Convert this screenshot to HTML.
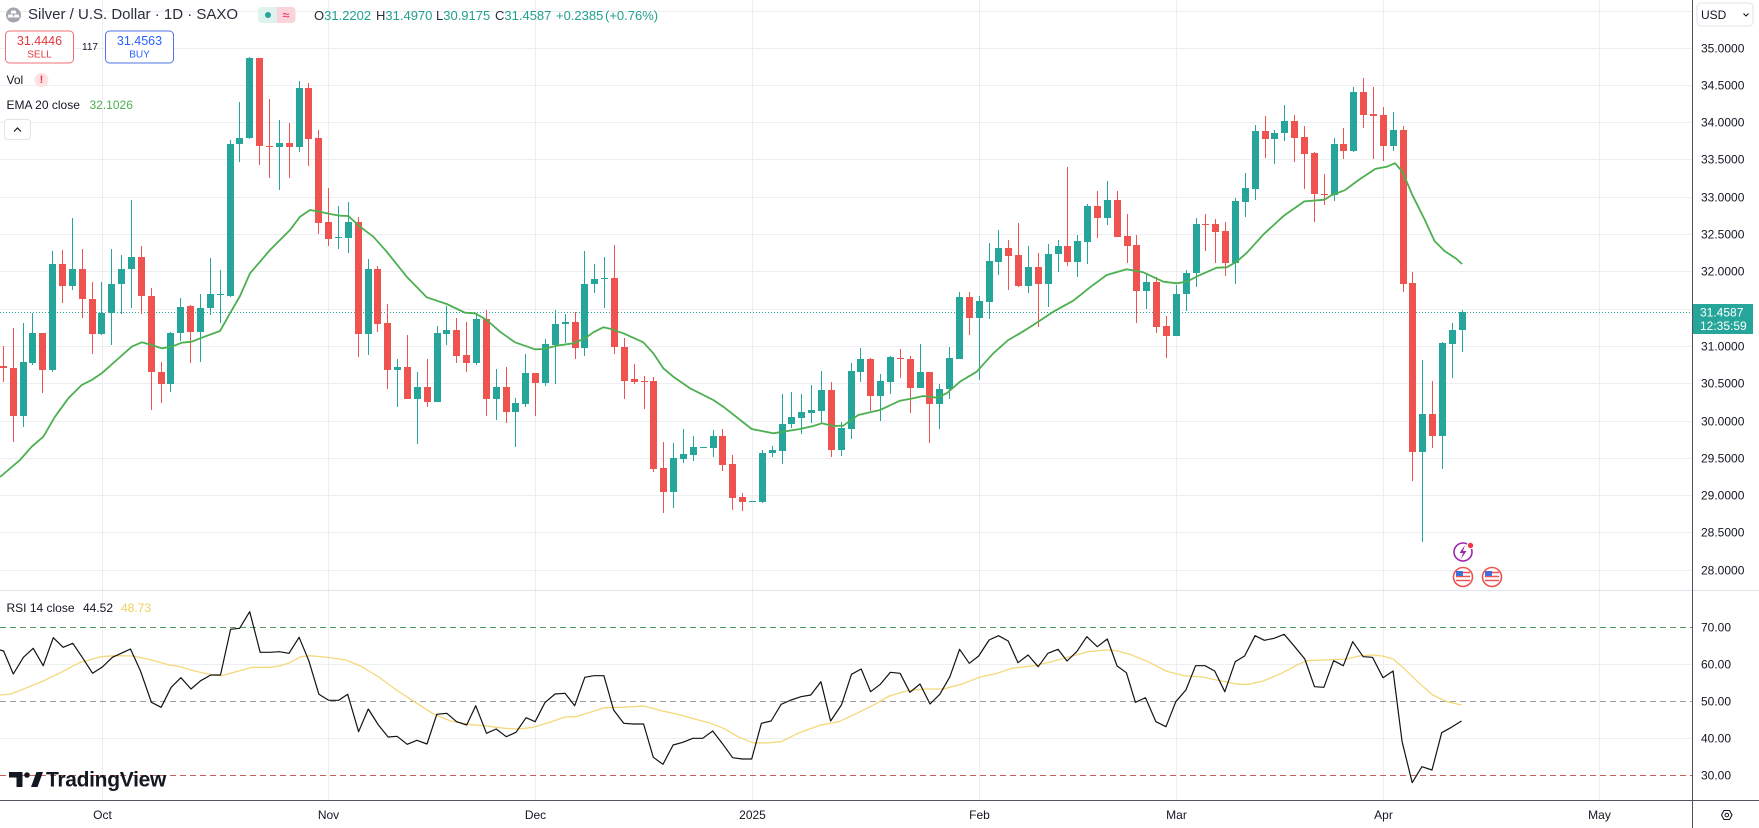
<!DOCTYPE html>
<html><head><meta charset="utf-8">
<style>
html,body{margin:0;padding:0;background:#fff;}
body{width:1759px;height:828px;overflow:hidden;position:relative;font-family:"Liberation Sans",sans-serif;color:#131722;}
svg{position:absolute;left:0;top:0;}
.t{position:absolute;white-space:nowrap;line-height:1;}
</style></head><body>
<svg width="1759" height="828" viewBox="0 0 1759 828" xmlns="http://www.w3.org/2000/svg" font-family="Liberation Sans, sans-serif">
<rect x="0" y="0" width="1759" height="828" fill="#fff"/>
<g stroke="#eceef2" stroke-width="1">
<path d="M0 11.5H1692M0 48.5H1692M0 85.5H1692M0 122.5H1692M0 159.5H1692M0 197.5H1692M0 234.5H1692M0 271.5H1692M0 309.5H1692M0 346.5H1692M0 383.5H1692M0 421.5H1692M0 458.5H1692M0 495.5H1692M0 532.5H1692M0 570.5H1692"/>
<path d="M0 664.5H1692M0 738.5H1692"/>
<path d="M102.5 0V800M328.5 0V800M535.5 0V800M752.5 0V800M979.5 0V800M1176.5 0V800M1383.5 0V800M1599.5 0V800"/>
</g>
<path d="M0 590.5H1759" stroke="#e0e3eb" stroke-width="1"/>
<path d="M0 627.5H1692" stroke="#4f9a5f" stroke-width="1" stroke-dasharray="6 4"/>
<path d="M0 701.5H1692" stroke="#9a9ca3" stroke-width="1" stroke-dasharray="6 4"/>
<path d="M0 775.5H1692" stroke="#c5625d" stroke-width="1" stroke-dasharray="6 4"/>
<path d="M0 312.5H1692" stroke="#26a69a" stroke-width="1" stroke-dasharray="1 2"/>

<path stroke="#26a69a" stroke-width="1" fill="none" d="M23.5 323V427M32.5 313V365M52.5 251V372M72.5 218V290M101.5 282V335M111.5 249V345M121.5 255V314M131.5 200V308M170.5 332V392M180.5 298V341M200.5 294V362M210.5 258V315M220.5 270V323M230.5 140V297M239.5 102V162M249.5 57V139M279.5 120V190M299.5 81V152M338.5 206V249M348.5 202V253M368.5 259V355M397.5 359V407M417.5 372V444M437.5 326V402M446.5 306V345M476.5 313V365M496.5 369V420M515.5 398V447M525.5 354V407M545.5 339V386M555.5 310V384M565.5 314V343M584.5 251V356M594.5 264V293M604.5 257V308M673.5 443V508M683.5 429V463M693.5 436V461M713.5 430V457M762.5 450V503M772.5 446V457M782.5 394V464M791.5 392V428M801.5 394V434M811.5 385V423M821.5 371V423M841.5 422V456M851.5 363V439M860.5 348V382M880.5 374V421M890.5 356V394M920.5 344V388M939.5 384V429M949.5 347V399M959.5 292V359M979.5 296V380M989.5 243V319M998.5 230V275M1028.5 246V293M1048.5 244V307M1058.5 240V272M1077.5 235V277M1087.5 204V264M1107.5 181V225M1146.5 273V309M1176.5 285V336M1186.5 270V311M1196.5 218V287M1235.5 198V284M1245.5 173V217M1255.5 125V200M1274.5 130V164M1284.5 105V141M1334.5 138V201M1353.5 87V152M1393.5 112V151M1422.5 360V542M1442.5 342V469M1452.5 323V378M1462.5 310V352"/>
<path fill="#26a69a" d="M20 362h7v54h-7zM29 333h7v30h-7zM49 264h7v106h-7zM69 269h7v17h-7zM98 313h7v21h-7zM108 284h7v29h-7zM118 269h7v15h-7zM128 257h7v12h-7zM167 333h7v51h-7zM177 307h7v26h-7zM197 308h7v24h-7zM207 294h7v14h-7zM217 294h7v1h-7zM227 144h7v152h-7zM236 138h7v6h-7zM246 58h7v80h-7zM276 143h7v4h-7zM296 88h7v59h-7zM335 237h7v1h-7zM345 222h7v16h-7zM365 269h7v65h-7zM394 367h7v3h-7zM414 387h7v12h-7zM434 333h7v69h-7zM443 330h7v4h-7zM473 319h7v44h-7zM493 387h7v12h-7zM512 403h7v9h-7zM522 373h7v31h-7zM542 344h7v39h-7zM552 324h7v21h-7zM562 322h7v2h-7zM581 284h7v64h-7zM591 279h7v5h-7zM601 278h7v1h-7zM670 458h7v34h-7zM680 454h7v5h-7zM690 447h7v8h-7zM700 447h7v1h-7zM710 436h7v12h-7zM749 501h7v1h-7zM759 453h7v49h-7zM769 450h7v3h-7zM779 424h7v27h-7zM788 417h7v7h-7zM798 412h7v6h-7zM808 410h7v3h-7zM818 390h7v21h-7zM838 428h7v22h-7zM848 371h7v58h-7zM857 359h7v13h-7zM877 381h7v15h-7zM887 357h7v25h-7zM917 372h7v16h-7zM936 389h7v15h-7zM946 358h7v31h-7zM956 297h7v62h-7zM976 301h7v17h-7zM986 261h7v41h-7zM995 248h7v14h-7zM1025 267h7v19h-7zM1045 254h7v30h-7zM1055 246h7v8h-7zM1074 241h7v21h-7zM1084 206h7v36h-7zM1104 200h7v18h-7zM1143 282h7v9h-7zM1173 294h7v42h-7zM1183 273h7v21h-7zM1193 224h7v49h-7zM1232 201h7v62h-7zM1242 188h7v14h-7zM1252 131h7v58h-7zM1271 133h7v6h-7zM1281 121h7v12h-7zM1331 144h7v51h-7zM1350 92h7v59h-7zM1390 130h7v16h-7zM1419 414h7v38h-7zM1439 343h7v93h-7zM1449 330h7v14h-7zM1459 312h7v18h-7z"/>
<path stroke="#ef5350" stroke-width="1" fill="none" d="M3.5 346V382M13.5 328V442M42.5 333V393M62.5 250V303M82.5 249V318M92.5 282V354M141.5 246V314M151.5 288V410M161.5 362V403M190.5 305V363M259.5 58V165M269.5 99V178M289.5 123V178M308.5 83V166M318.5 130V234M328.5 188V246M358.5 217V357M377.5 266V332M387.5 304V389M407.5 335V399M427.5 359V407M456.5 318V363M466.5 322V372M486.5 310V416M506.5 367V423M535.5 373V416M575.5 312V359M614.5 245V354M624.5 338V399M634.5 364V384M644.5 376V409M653.5 377V472M663.5 442V513M722.5 429V471M732.5 455V510M742.5 493V511M831.5 382V457M870.5 358V411M900.5 349V378M910.5 356V413M929.5 372V443M969.5 292V335M1008.5 240V290M1018.5 223V287M1038.5 253V327M1067.5 167V266M1097.5 191V238M1117.5 191V237M1127.5 214V263M1136.5 235V323M1156.5 277V333M1166.5 316V358M1205.5 214V251M1215.5 219V263M1225.5 222V276M1265.5 116V158M1294.5 115V162M1304.5 126V189M1314.5 152V222M1324.5 174V205M1343.5 128V159M1363.5 78V128M1373.5 87V159M1383.5 107V161M1403.5 126V292M1412.5 272V481M1432.5 381V448"/>
<path fill="#ef5350" d="M0 366h7v2h-7zM10 368h7v48h-7zM39 333h7v37h-7zM59 264h7v22h-7zM79 269h7v30h-7zM89 299h7v35h-7zM138 257h7v39h-7zM148 296h7v76h-7zM158 372h7v12h-7zM187 306h7v26h-7zM256 58h7v88h-7zM266 146h7v1h-7zM286 143h7v4h-7zM305 88h7v51h-7zM315 138h7v85h-7zM325 222h7v17h-7zM355 222h7v112h-7zM374 269h7v55h-7zM384 323h7v47h-7zM404 367h7v32h-7zM424 387h7v15h-7zM453 330h7v26h-7zM463 355h7v8h-7zM483 319h7v80h-7zM503 387h7v25h-7zM532 373h7v10h-7zM572 322h7v26h-7zM611 278h7v69h-7zM621 347h7v34h-7zM631 379h7v3h-7zM641 381h7v1h-7zM650 381h7v88h-7zM660 468h7v24h-7zM719 436h7v29h-7zM729 464h7v34h-7zM739 497h7v5h-7zM828 390h7v60h-7zM867 359h7v37h-7zM897 358h7v1h-7zM907 359h7v29h-7zM926 372h7v32h-7zM966 297h7v21h-7zM1005 248h7v8h-7zM1015 255h7v31h-7zM1035 267h7v17h-7zM1064 246h7v16h-7zM1094 206h7v12h-7zM1114 200h7v37h-7zM1124 236h7v10h-7zM1133 245h7v46h-7zM1153 282h7v45h-7zM1163 326h7v10h-7zM1202 224h7v1h-7zM1212 224h7v8h-7zM1222 231h7v32h-7zM1262 131h7v8h-7zM1291 121h7v17h-7zM1301 137h7v17h-7zM1311 153h7v41h-7zM1321 194h7v1h-7zM1340 144h7v7h-7zM1360 92h7v23h-7zM1370 114h7v2h-7zM1380 115h7v31h-7zM1400 130h7v154h-7zM1409 283h7v169h-7zM1429 414h7v22h-7z"/>

<polyline fill="none" stroke="#4caf50" stroke-width="1.8" stroke-linejoin="round" points="0,477 20,460 31.7,446.7 43.3,436.7 55,416.7 68.3,398.3 81.7,385 91.7,380 101.7,373.3 116.7,360 131.7,346.7 141.7,342.3 151.7,345 161.7,348.3 171.7,346.7 181.7,342.7 191.7,341.7 201.7,337.7 220,331 230,313.3 240,296 250,273.3 260,261.7 270,250 280,240 290,230 300,216.7 310,210 320,211.7 330,214 340,215.7 348.3,216 360,226.7 373.3,236.7 386.7,251.7 406.7,276.7 426.7,297.3 446.7,304 465,312.7 475,313.3 486.7,320 500,331.7 515,342.3 535,349.3 543.3,349 556.7,345.7 573.3,343.3 585,338.3 593.3,332.3 603.3,327.3 610,328.7 623.3,333.3 643.3,342.3 653.3,353.3 663.3,368.3 673.3,376.7 690,388.3 713.3,400 723.3,406.7 751.7,429 773.3,433.3 783.3,431.7 800,429 813.3,426 821.7,423.3 833.3,426 843.3,425.7 858.3,415 880,410 900,400.7 913.3,398.3 923.3,396 936.7,397.7 946.7,393.3 960,381.7 976.7,371.7 993.3,353.3 1008.3,340 1020,333.3 1033.3,325 1053.3,311.7 1073.3,300.7 1090,287.3 1106.7,275 1126.7,269.3 1143.3,272.3 1163.3,281.7 1176.7,283.3 1186.7,281.7 1200,275 1216.7,267.7 1226.7,267.3 1236.7,261.7 1246.8,252.8 1263.7,234.2 1284,215.6 1304.3,201.4 1324.6,199.7 1331.3,195.3 1344.9,190.2 1358.4,180.1 1375.3,168.9 1387.2,166.6 1395,163.2 1402.4,171.6 1412.5,195.3 1424.4,219 1434.5,241 1444.7,251.1 1456.5,258.9 1462,264"/>

<polyline fill="none" stroke="#f5d87a" stroke-width="1.3" stroke-linejoin="round" points="0,695 10.8,694 25.2,688.3 43.2,681 61.3,672.3 79.3,662.7 100.9,656.7 115.3,655.7 133.3,656 151.4,660 169.4,665 180.2,666.7 194.6,671 212.6,675 221.6,675.7 234.2,672.3 252.3,667.3 270.3,667.3 279.3,666 288.3,663.3 300.9,656.7 309.9,655.7 324.3,657 345.9,660 360.4,666 378.4,676.7 396.4,690 414.4,701.7 432.4,713.3 450.5,721 468.5,724.3 486.5,726 504.5,728.3 518.9,729 533.3,727.3 551.4,721.7 565,717 575.8,716.7 590.2,712.3 604.6,707.7 622.7,707.3 644.3,706 662.3,711 676.7,714 694.7,719 709.1,722.7 723.6,728.3 738,736.7 752.4,742.7 766.8,743 781.2,741.7 799.2,732.7 820.9,725 838.9,721.7 856.9,713.3 874.9,704.3 889.3,696 907.3,690.7 925.4,689 943.4,689 961.4,684.3 979.4,677.3 997.4,673.3 1011.8,668.3 1033.5,665.7 1051.5,661.7 1069.5,656.7 1087.5,651.7 1105.5,650 1116.4,650.7 1130,654.3 1148,661.7 1166,671 1184.1,675.7 1202.1,677 1220.1,680.7 1238.1,684.3 1248.9,684.3 1263.3,681 1281.4,673.3 1295.8,665.7 1306.6,660.7 1324.6,660 1346.2,659 1360.6,655.7 1371.4,655 1382.3,656 1393.1,659 1403.9,668.3 1418.3,682.3 1432.7,695 1447.1,701.7 1461.5,705"/>
<polyline fill="none" stroke="#131313" stroke-width="1.2" stroke-linejoin="round" points="0,650 3.6,651 13.3,674 23.4,657.3 33.2,648.3 43.2,665.7 53.3,637.7 63.1,647.3 72.8,643.3 82.9,658.3 92.6,673.3 102.7,666.7 112.4,657.3 122.5,652.7 130.5,649 140.5,671 151.4,702.3 161.1,707.3 171.2,687.3 180.9,677.7 191,689 200.7,680.7 210.8,675 220.5,675 230.6,629.3 239.6,628.3 249.7,611.7 260.2,652.3 270.3,652.3 279.3,651.7 289,653.3 299.1,637.3 308.8,660.7 318.9,694.3 328.6,700.3 338.7,700.3 347.7,694.3 358.6,731.7 368.3,709 378.4,725 388.1,737 397.1,736.3 407.2,744.3 416.9,740.3 427,744 436.8,714.3 446.8,713.3 456.6,721.7 466.7,725 475.7,705.7 486.5,733.3 496.2,729 506.3,736.7 516,732.3 526.1,717.7 535.1,721.7 544.9,702.7 555,694 565,693.3 574.7,705.7 584.8,677.3 593.8,675.7 603.9,675.7 613.6,710 623.7,723.3 633.5,724 643.6,724 653.3,757.3 663,764.3 673.1,745 682.8,742.3 692.9,738.3 702.7,738.3 712.7,731 722.5,743.7 732.6,757.7 742.3,759 751.7,759 761.4,723.3 771.1,721 781.2,704.3 791,700 801,696.7 810.8,695 820.9,681.7 830.6,721 841.4,705 851.5,674.3 861.2,669 870.6,691.7 880.3,684.3 890.4,672.3 900.1,673.3 909.9,692.3 920,684 930,704 939.8,694.3 949.9,676.7 959.6,649.3 969.3,663.3 978.7,656 989.1,640 998.5,635.7 1008.2,641 1018,662.7 1028.1,655 1038.2,666.7 1047.9,653.3 1058,649.3 1067,661 1076.7,651.7 1086.8,636.7 1097.3,646.7 1107.3,639 1117.1,666 1126.4,672.7 1135.4,702.3 1145.5,697.7 1155.9,721.7 1166,726.7 1175.8,701.7 1185.9,690 1195.6,665.7 1205,665.7 1214.7,671 1224.8,691.7 1235.2,661.7 1244.6,656 1255,635.7 1264.4,640.3 1274.1,638.3 1284.2,634.3 1294.7,646.7 1304.8,659 1314.5,686.7 1323.9,687.3 1333.6,660.7 1343.3,665.7 1352.7,641.7 1363.2,656.7 1372.5,657.3 1383,677.7 1393.1,671 1402.1,741.7 1412.2,782.7 1421.9,766.7 1432,770 1441.7,732.7 1451.4,727.3 1461.5,721"/>

<g>
<circle cx="1463" cy="552" r="9" fill="#fff" stroke="#9c27b0" stroke-width="1.6"/>
<path d="M1465 545 L1459.5 553 H1463 L1461 559 L1466.5 551 H1463 Z" fill="#9c27b0"/>
<circle cx="1470.5" cy="545.5" r="3.2" fill="#f23645" stroke="#fff" stroke-width="1"/>
<circle cx="1463" cy="577" r="9.5" fill="#fff" stroke="#ef5350" stroke-width="1.6"/>
<path d="M1456 572.5H1470M1456 576.5H1470M1456 580.5H1470" stroke="#ef5350" stroke-width="1.6"/>
<rect x="1456" y="571" width="7" height="5" fill="#3f6fd8"/>
<circle cx="1492" cy="577" r="9.5" fill="#fff" stroke="#ef5350" stroke-width="1.6"/>
<path d="M1485 572.5H1499M1485 576.5H1499M1485 580.5H1499" stroke="#ef5350" stroke-width="1.6"/>
<rect x="1485" y="571" width="7" height="5" fill="#3f6fd8"/>
</g>

<rect x="1693" y="0" width="66" height="828" fill="#fff"/>
<path d="M0 590.5H1759" stroke="#e0e3eb" stroke-width="1"/>
<path d="M1692.5 0V828" stroke="#50535e" stroke-width="1"/>
<path d="M0 800.5H1759" stroke="#50535e" stroke-width="1"/>

<g font-size="12" fill="#131722" dominant-baseline="central">
<text x="1701" y="48.5">35.0000</text>
<text x="1701" y="85.5">34.5000</text>
<text x="1701" y="122.5">34.0000</text>
<text x="1701" y="159.5">33.5000</text>
<text x="1701" y="197.5">33.0000</text>
<text x="1701" y="234.5">32.5000</text>
<text x="1701" y="271.5">32.0000</text>
<text x="1701" y="346.5">31.0000</text>
<text x="1701" y="383.5">30.5000</text>
<text x="1701" y="421.5">30.0000</text>
<text x="1701" y="458.5">29.5000</text>
<text x="1701" y="495.5">29.0000</text>
<text x="1701" y="532.5">28.5000</text>
<text x="1701" y="570.5">28.0000</text>
<text x="1701" y="627.5">70.00</text>
<text x="1701" y="664.5">60.00</text>
<text x="1701" y="701.5">50.00</text>
<text x="1701" y="738.5">40.00</text>
<text x="1701" y="775.5">30.00</text>
</g>
<rect x="1693" y="304" width="60" height="30" fill="#26a69a"/>
<g font-size="12" fill="#fff" dominant-baseline="central">
<text x="1700" y="312.5">31.4587</text>
<text x="1700" y="326">12:35:59</text>
</g>
<rect x="1697" y="3" width="56" height="23" rx="4" fill="#fff" stroke="#e0e3eb"/>
<text x="1701" y="15" font-size="12" fill="#131722" dominant-baseline="central">USD</text>
<path d="M1743.5 13.5 L1746 16 L1748.5 13.5" fill="none" stroke="#131722" stroke-width="1.1"/>
<g font-size="12" fill="#131722" text-anchor="middle" dominant-baseline="central">
<text x="102.5" y="815">Oct</text>
<text x="328.5" y="815">Nov</text>
<text x="535.5" y="815">Dec</text>
<text x="752.5" y="815">2025</text>
<text x="979.5" y="815">Feb</text>
<text x="1176.5" y="815">Mar</text>
<text x="1383.5" y="815">Apr</text>
<text x="1599.5" y="815">May</text>
</g>
<path d="M1721.5 815 L1724 810.5 H1729.5 L1732 815 L1729.5 819.5 H1724 Z" fill="none" stroke="#131722" stroke-width="1.1"/>
<circle cx="1726.8" cy="815" r="1.8" fill="none" stroke="#131722" stroke-width="1"/>

<circle cx="13.5" cy="15" r="7.5" fill="#a3a6af"/>
<path d="M11.5 10.5h4l1 3h-6zM8.5 14.5h4l1 3h-6zM14.5 14.5h4l1 3h-6z" fill="#fff"/>
<rect x="258" y="7" width="19" height="16" rx="4" fill="#dff2ee"/>
<rect x="273" y="7" width="4" height="16" fill="#dff2ee"/>
<rect x="277" y="7" width="18.5" height="16" rx="4" fill="#fbd3da"/>
<rect x="277" y="7" width="4" height="16" fill="#fbd3da"/>
<circle cx="268" cy="15" r="3" fill="#26a69a"/>
<text x="286" y="15" font-size="13" fill="#e91e63" text-anchor="middle" dominant-baseline="central">≈</text>

<rect x="5.5" y="31" width="68" height="32" rx="4" fill="#fff" stroke="#ef6f77"/>
<rect x="105.5" y="31" width="68" height="32" rx="4" fill="#fff" stroke="#4f76e8"/>
<g text-anchor="middle" dominant-baseline="central">
<text x="39.5" y="41" font-size="12.5" fill="#e0393f">31.4446</text>
<text x="39.5" y="55" font-size="10" fill="#e0393f">SELL</text>
<text x="139.5" y="41" font-size="12.5" fill="#2962ff">31.4563</text>
<text x="139.5" y="55" font-size="10" fill="#2962ff">BUY</text>
<text x="90" y="47.5" font-size="10" fill="#131722">117</text>
</g>

<text x="6.5" y="80" font-size="12" fill="#131722" dominant-baseline="central">Vol</text>
<circle cx="41.5" cy="80" r="7" fill="#fde1e4"/>
<text x="41.5" y="80" font-size="11" font-weight="bold" fill="#f23645" text-anchor="middle" dominant-baseline="central">!</text>
<text x="6.5" y="105" font-size="12" fill="#131722" dominant-baseline="central">EMA 20 close</text>
<text x="89.5" y="105" font-size="12" fill="#4caf50" dominant-baseline="central">32.1026</text>
<rect x="4.5" y="119.5" width="26" height="20" rx="3" fill="#fff" stroke="#e0e3eb"/>
<path d="M14 131.5 L17.5 128 L21 131.5" fill="none" stroke="#131722" stroke-width="1.2"/>

<g font-size="12" dominant-baseline="central">
<text x="6.5" y="608" fill="#131722">RSI 14 close</text>
<text x="83" y="608" fill="#131722">44.52</text>
<text x="121" y="608" fill="#f2cf5b">48.73</text>
</g>

<path d="M9 772H22.5V787H16.5V777.5H9Z" fill="#131722"/>
<circle cx="27" cy="775" r="2.8" fill="#131722"/>
<path d="M31 787L36.5 772H43L37.5 787Z" fill="#131722"/>
<text x="46" y="780" font-size="21" font-weight="bold" fill="#131722" dominant-baseline="central" letter-spacing="-0.3">TradingView</text>
</svg>

<div class="t" style="left:28px;top:7px;font-size:15px;color:#2a2e39;">Silver / U.S. Dollar · 1D · SAXO</div>
<div class="t" style="left:314px;top:8.5px;font-size:13px;color:#2a2e39;">O<span style="color:#22a08f">31.2202</span></div>
<div class="t" style="left:376px;top:8.5px;font-size:13px;color:#2a2e39;">H<span style="color:#22a08f">31.4970</span></div>
<div class="t" style="left:436px;top:8.5px;font-size:13px;color:#2a2e39;">L<span style="color:#22a08f">30.9175</span></div>
<div class="t" style="left:495px;top:8.5px;font-size:13px;color:#2a2e39;">C<span style="color:#22a08f">31.4587</span></div>
<div class="t" style="left:556px;top:8.5px;font-size:13px;color:#22a08f;">+0.2385</div>
<div class="t" style="left:605px;top:8.5px;font-size:13px;color:#22a08f;">(+0.76%)</div>
</body></html>
